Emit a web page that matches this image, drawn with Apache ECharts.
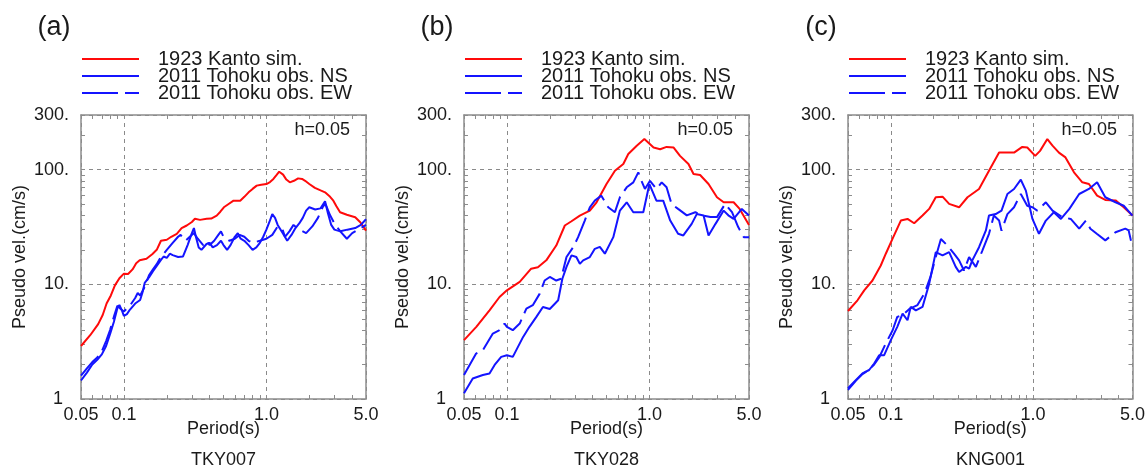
<!DOCTYPE html>
<html>
<head>
<meta charset="utf-8">
<script src="https://cdn.jsdelivr.net/npm/echarts@6/dist/echarts.min.js"></script>
<style>
  html, body { margin: 0; padding: 0; background: #ffffff; }
  #chart { width: 1148px; height: 472px; }
</style>
</head>
<body>
<div id="chart"></div>
<script>
// Pseudo-velocity response spectra (h = 0.05): [period (s), pseudo velocity (cm/s)]

// --- TKY007 ---
const tky007Kanto = [[0.05,2.9],[0.058,3.6],[0.066,4.5],[0.071,5.4],[0.0756,6.8],[0.081,8.0],[0.0865,9.8],[0.093,11.3],[0.1,12.4],[0.107,12.3],[0.115,13.5],[0.122,15.3],[0.129,16.2],[0.144,16.7],[0.158,18.3],[0.17,20],[0.182,24],[0.2,24.5],[0.215,26],[0.235,27.6],[0.254,30.9],[0.276,32.6],[0.3,35],[0.315,37.3],[0.342,36.5],[0.381,37.3],[0.41,37.5],[0.448,39.8],[0.475,43],[0.503,47],[0.54,50],[0.588,53.7],[0.655,53.7],[0.7,58],[0.75,63.5],[0.8,68],[0.855,72.6],[0.92,74],[1.0,75],[1.06,78],[1.12,83],[1.18,90],[1.23,96],[1.31,90.5],[1.38,82],[1.46,77.6],[1.56,80],[1.67,84],[1.78,83],[1.87,80],[2.0,75],[2.19,69.4],[2.4,66],[2.58,63.5],[2.8,58],[2.95,53.7],[3.1,48],[3.29,42.5],[3.67,40.5],[4.2,38.5],[4.56,34.8],[5.0,29.4]];
const tky007Ns = [[0.05,1.45],[0.055,1.7],[0.06,2.0],[0.065,2.2],[0.07,2.45],[0.075,2.9],[0.08,3.7],[0.085,4.7],[0.09,6.2],[0.093,6.6],[0.097,5.9],[0.1,5.3],[0.105,5.5],[0.11,6.0],[0.12,6.8],[0.13,7.3],[0.135,8.5],[0.14,10.3],[0.15,11.5],[0.16,13],[0.17,14.5],[0.18,16],[0.19,17.5],[0.2,17],[0.21,18.5],[0.22,18],[0.24,17.3],[0.26,17.5],[0.28,22],[0.3,28],[0.31,31],[0.32,26],[0.335,21],[0.35,20],[0.38,22.5],[0.4,23],[0.42,21],[0.45,22],[0.48,24],[0.5,22],[0.53,20],[0.56,22],[0.6,26],[0.63,28],[0.66,25],[0.7,24],[0.75,22],[0.8,20],[0.85,21],[0.9,23],[0.95,26],[1.0,30],[1.05,35],[1.1,41],[1.15,38],[1.2,33],[1.3,28],[1.4,24],[1.5,27],[1.6,31],[1.7,34],[1.8,38],[1.9,44],[2.0,47],[2.2,45],[2.4,46],[2.58,53],[2.7,42],[2.85,33],[3.0,30],[3.3,29],[3.7,30],[4.2,31],[4.6,33],[5.0,37]];
const tky007Ew = [[0.05,1.6],[0.055,1.85],[0.06,2.1],[0.065,2.3],[0.07,2.6],[0.075,3.2],[0.08,4.0],[0.085,5.2],[0.09,6.5],[0.095,6.1],[0.1,5.8],[0.11,6.5],[0.12,7.6],[0.125,8.4],[0.13,8.0],[0.14,9.5],[0.15,12],[0.16,13.5],[0.17,15],[0.18,17],[0.2,20],[0.22,23],[0.24,26],[0.25,27],[0.27,24],[0.29,26],[0.31,28],[0.33,25],[0.36,22],[0.38,24],[0.4,22],[0.43,24],[0.46,27],[0.48,29],[0.5,26],[0.55,24],[0.6,25],[0.65,27],[0.7,26],[0.75,24],[0.8,23],[0.9,24],[1.0,25],[1.1,27],[1.2,32],[1.3,30],[1.35,26],[1.45,29],[1.55,33],[1.7,30],[1.9,28],[2.1,32],[2.3,38],[2.5,48],[2.6,50],[2.8,40],[3.0,34],[3.3,29],[3.67,25],[4.0,28],[4.4,30],[5.0,33]];

// --- TKY028 ---
const tky028Kanto = [[0.05,3.26],[0.061,4.26],[0.0755,5.94],[0.0888,7.76],[0.1,8.87],[0.123,10.5],[0.148,13.7],[0.165,14.1],[0.189,16.2],[0.222,21.8],[0.255,32.6],[0.284,35.5],[0.325,39.8],[0.382,44],[0.426,52],[0.5,75],[0.573,98],[0.656,112],[0.711,137],[0.815,162],[0.922,185],[1.07,156],[1.19,151],[1.32,158],[1.48,156],[1.64,132],[1.88,112],[2.04,91.6],[2.27,90],[2.6,75],[2.98,57.5],[3.32,52],[3.9,52],[4.3,45.5],[5.0,33]];
const tky028Ns = [[0.05,1.12],[0.0576,1.51],[0.0678,1.62],[0.0755,1.67],[0.082,1.98],[0.0912,2.33],[0.1,2.41],[0.11,2.33],[0.13,3.48],[0.144,4.26],[0.161,5.2],[0.179,6.35],[0.2,6.1],[0.229,7.26],[0.245,11.2],[0.262,14.2],[0.284,17.9],[0.307,17.3],[0.325,15.1],[0.343,16.2],[0.382,17.3],[0.414,20.4],[0.449,21.2],[0.487,18.5],[0.558,25.8],[0.621,44],[0.693,52],[0.771,42.6],[0.906,42.6],[1.0,75],[1.12,53.7],[1.25,53.7],[1.4,36],[1.59,27.6],[1.73,26.7],[1.98,33.7],[2.15,41],[2.4,39.8],[2.6,26.7],[2.91,33.7],[3.32,44],[3.58,40],[3.9,37.2],[4.45,45.5],[5.0,39.8]];
const tky028Ew = [[0.05,1.62],[0.0608,2.49],[0.0678,2.67],[0.0797,3.72],[0.0888,3.98],[0.0963,4.55],[0.1,4.26],[0.11,3.98],[0.123,4.55],[0.137,6.14],[0.152,6.58],[0.17,8.3],[0.184,10.8],[0.2,11.6],[0.222,10.8],[0.24,11.2],[0.262,17.3],[0.292,21.1],[0.316,25.8],[0.352,36],[0.382,47],[0.414,53.7],[0.46,59.4],[0.514,47],[0.573,42.6],[0.621,57.5],[0.693,70.2],[0.771,77.6],[0.836,94.8],[0.88,80],[0.93,67.9],[1.01,80],[1.12,67.9],[1.22,77.6],[1.32,70.2],[1.43,50.3],[1.59,45.5],[1.83,40],[2.1,42.6],[2.34,40],[2.68,38.6],[2.98,38.6],[3.4,50.3],[3.8,42.6],[4.2,31.6],[4.6,25.8],[5.0,25.8]];

// --- KNG001 ---
const kng001Kanto = [[0.05,5.86],[0.0583,7.26],[0.065,8.87],[0.0743,10.8],[0.085,14.6],[0.0922,18.5],[0.1027,24.9],[0.1176,36],[0.131,37.2],[0.146,34.1],[0.167,39.8],[0.186,45.5],[0.207,57.5],[0.231,58.2],[0.257,50.3],[0.302,47],[0.346,57.5],[0.417,67.9],[0.49,98],[0.577,141],[0.66,141],[0.735,141],[0.84,158],[0.911,156],[1.035,132],[1.12,146],[1.26,185],[1.37,162],[1.52,141],[1.69,128],[1.94,94.8],[2.22,77.6],[2.47,75],[2.82,59.4],[3.22,54.5],[3.8,54],[4.34,47],[5.0,39.8]];
const kng001Ns = [[0.05,1.24],[0.0567,1.46],[0.0632,1.67],[0.0704,1.79],[0.0764,2.04],[0.0828,2.41],[0.0898,2.41],[0.1,3.26],[0.111,4.26],[0.121,5.56],[0.131,4.86],[0.138,6.35],[0.15,5.94],[0.167,6.35],[0.186,10.1],[0.207,19.1],[0.231,17.9],[0.257,19.1],[0.286,14.2],[0.302,12.8],[0.337,14.2],[0.355,13.7],[0.374,16.2],[0.417,21.1],[0.466,29.5],[0.49,39.8],[0.546,41],[0.6,44],[0.66,61.4],[0.735,67.9],[0.82,81.8],[0.89,65.7],[0.99,37.2],[1.1,27.6],[1.23,36],[1.4,42.6],[1.57,37.2],[1.8,45.5],[2.11,61.4],[2.47,67.9],[2.82,77.6],[3.22,57.5],[3.8,52],[4.34,48.5],[5.0,39.8]];
const kng001Ew = [[0.05,1.2],[0.0567,1.44],[0.0632,1.65],[0.0704,1.8],[0.0764,2.0],[0.0828,2.3],[0.092,3.04],[0.103,3.98],[0.111,5.2],[0.121,5.4],[0.135,6.1],[0.154,6.6],[0.172,8.3],[0.19,11.6],[0.207,17.3],[0.225,24.9],[0.25,21.8],[0.278,18.5],[0.302,16.2],[0.327,13.2],[0.355,17.3],[0.396,14.2],[0.44,19.7],[0.49,27.6],[0.53,39.8],[0.577,36],[0.6,29.4],[0.66,41],[0.735,47],[0.82,61.4],[0.91,48.5],[0.99,47],[1.07,44],[1.23,52],[1.37,44],[1.6,38.6],[1.84,37.2],[2.11,30.6],[2.35,36],[2.53,30.6],[2.82,27.5],[3.22,24.2],[3.8,28.5],[4.45,30.6],[4.7,29.5],[5.0,21]];

// Axis ranges, labels and tick marks
const periodRange = [0.05, 5];
const velocityRange = [1, 300];
const periodTickValues = [0.05, 0.1, 1, 5];
const periodTickLabels = ['0.05', '0.1', '1.0', '5.0'];
const velocityTickValues = [1, 10, 100, 300];
const velocityTickLabels = ['1', '10.', '100.', '300.'];
const periodMinorTicks = [0.06, 0.07, 0.08, 0.09, 0.1, 0.2, 0.3, 0.4, 0.5, 0.6, 0.7, 0.8, 0.9, 1, 2, 3, 4];
const velocityMinorTicks = [2, 3, 4, 5, 6, 7, 8, 9, 10, 20, 30, 40, 50, 60, 70, 80, 90, 100, 200];

const seriesNames = ['1923 Kanto sim.', '2011 Tohoku obs. NS', '2011 Tohoku obs. EW'];
const panelTags = ['(a)', '(b)', '(c)'];
const stationNames = ['TKY007', 'TKY028', 'KNG001'];
const dampingLabel = 'h=0.05';

const panels = [
  { kanto: tky007Kanto, ns: tky007Ns, ew: tky007Ew, left: 81 },
  { kanto: tky028Kanto, ns: tky028Ns, ew: tky028Ew, left: 464 },
  { kanto: kng001Kanto, ns: kng001Ns, ew: kng001Ew, left: 848 }
];

const FONT = '"Liberation Sans", Arial, Helvetica, sans-serif';
const TEXT = '#1a1a1a';
const FRAME = '#8c8c8c';
const RED = '#ff0a0a';
const BLUE = '#1414ff';
const GRID_TOP = 115, GRID_W = 285, GRID_H = 284;
const EW_DASH = [26, 7];

function labelFor(v, values, labels) {
  for (let i = 0; i < values.length; i++) {
    if (Math.abs(Math.log10(v / values[i])) < 0.01) return labels[i];
  }
  return '';
}

const frameLine = { show: true, onZero: false, lineStyle: { color: FRAME, width: 1.5 } };
const noLine = { show: false, onZero: false };
const gridDash = { show: true, lineStyle: { color: '#8a8a8a', width: 1, type: [4, 4] } };
function inwardTicks(values) {
  return { show: true, inside: true, length: 4, customValues: values, lineStyle: { color: FRAME, width: 1 } };
}

const xAxis = [], yAxis = [], grid = [], series = [], legend = [], graphic = [];

panels.forEach((p, i) => {
  grid.push({ left: p.left, top: GRID_TOP, width: GRID_W, height: GRID_H, containLabel: false });

  // x: labelled frame (bottom), frame (top), dashed decade grid lines
  const xb = { gridIndex: i, type: 'log', logBase: 10, min: periodRange[0], max: periodRange[1] };
  xAxis.push(
    Object.assign({}, xb, {
      position: 'bottom', axisLine: frameLine, axisTick: inwardTicks(periodMinorTicks), splitLine: { show: false },
      axisLabel: { margin: 7, fontSize: 18, color: TEXT, fontFamily: FONT,
        formatter: v => labelFor(v, periodTickValues, periodTickLabels) },
      name: 'Period(s)', nameLocation: 'middle', nameGap: 21, nameMoveOverlap: false,
      nameTextStyle: { fontSize: 18, color: TEXT, fontFamily: FONT }
    }),
    Object.assign({}, xb, { position: 'top', axisLine: frameLine, axisTick: inwardTicks(periodMinorTicks),
      axisLabel: { show: false }, splitLine: { show: false } }),
    Object.assign({}, xb, { position: 'bottom', axisLine: noLine, axisTick: { show: false },
      axisLabel: { show: false }, splitLine: gridDash })
  );

  // y: labelled frame (left), frame (right), dashed decade grid lines
  const yb = { gridIndex: i, type: 'log', logBase: 10, min: velocityRange[0], max: velocityRange[1] };
  yAxis.push(
    Object.assign({}, yb, {
      position: 'left', axisLine: frameLine, axisTick: inwardTicks(velocityMinorTicks), splitLine: { show: false },
      axisLabel: { margin: 12, fontSize: 18, color: TEXT, fontFamily: FONT,
        formatter: v => {
          const s = labelFor(v, velocityTickValues, velocityTickLabels);
          return s === '1' ? '{one|1}' : s;
        },
        rich: { one: { fontSize: 18, color: TEXT, fontFamily: FONT, padding: [0, 6, 0, 0] } } },
      name: 'Pseudo vel.(cm/s)', nameLocation: 'middle', nameGap: 52, nameMoveOverlap: false,
      nameTextStyle: { fontSize: 18, color: TEXT, fontFamily: FONT }
    }),
    Object.assign({}, yb, { position: 'right', axisLine: frameLine, axisTick: inwardTicks(velocityMinorTicks),
      axisLabel: { show: false }, splitLine: { show: false } }),
    Object.assign({}, yb, { position: 'left', axisLine: noLine, axisTick: { show: false },
      axisLabel: { show: false }, splitLine: gridDash })
  );

  const curves = [
    { name: seriesNames[0], data: p.kanto, color: RED, type: 'solid' },
    { name: seriesNames[1], data: p.ns, color: BLUE, type: 'solid' },
    { name: seriesNames[2], data: p.ew, color: BLUE, type: EW_DASH }
  ];
  curves.forEach(c => {
    series.push({
      type: 'line', name: c.name, xAxisIndex: 3 * i, yAxisIndex: 3 * i, data: c.data,
      symbol: 'none', showSymbol: false, silent: true, clip: true,
      lineStyle: { color: c.color, width: 2, type: c.type }, itemStyle: { color: c.color }
    });
  });

  legend.push({
    left: p.left, top: 49, orient: 'vertical', padding: 0, itemWidth: 57, itemHeight: 16, itemGap: -3,
    selectedMode: false,
    itemStyle: { opacity: 0 },
    textStyle: { fontSize: 20, color: TEXT, fontFamily: FONT, padding: [0, 0, 0, 14], lineHeight: 16 },
    data: [
      { name: seriesNames[0] },
      { name: seriesNames[1] },
      { name: seriesNames[2], lineStyle: { type: [36, 7] } }
    ]
  });

  graphic.push(
    { type: 'text', x: p.left - 27, y: 28,
      style: { text: panelTags[i], fontSize: 27, fontFamily: FONT, fill: TEXT, align: 'center', verticalAlign: 'middle' } },
    { type: 'text', x: p.left + GRID_W - 16, y: 130,
      style: { text: dampingLabel, fontSize: 18, fontFamily: FONT, fill: TEXT, align: 'right', verticalAlign: 'middle' } },
    { type: 'text', x: p.left + GRID_W / 2, y: 460,
      style: { text: stationNames[i], fontSize: 18, fontFamily: FONT, fill: TEXT, align: 'center', verticalAlign: 'middle' } }
  );
});

const chart = echarts.init(document.getElementById('chart'), null, { renderer: 'canvas' });
chart.setOption({
  animation: false,
  backgroundColor: '#ffffff',
  grid, xAxis, yAxis, series, legend, graphic
});
</script>
</body>
</html>
